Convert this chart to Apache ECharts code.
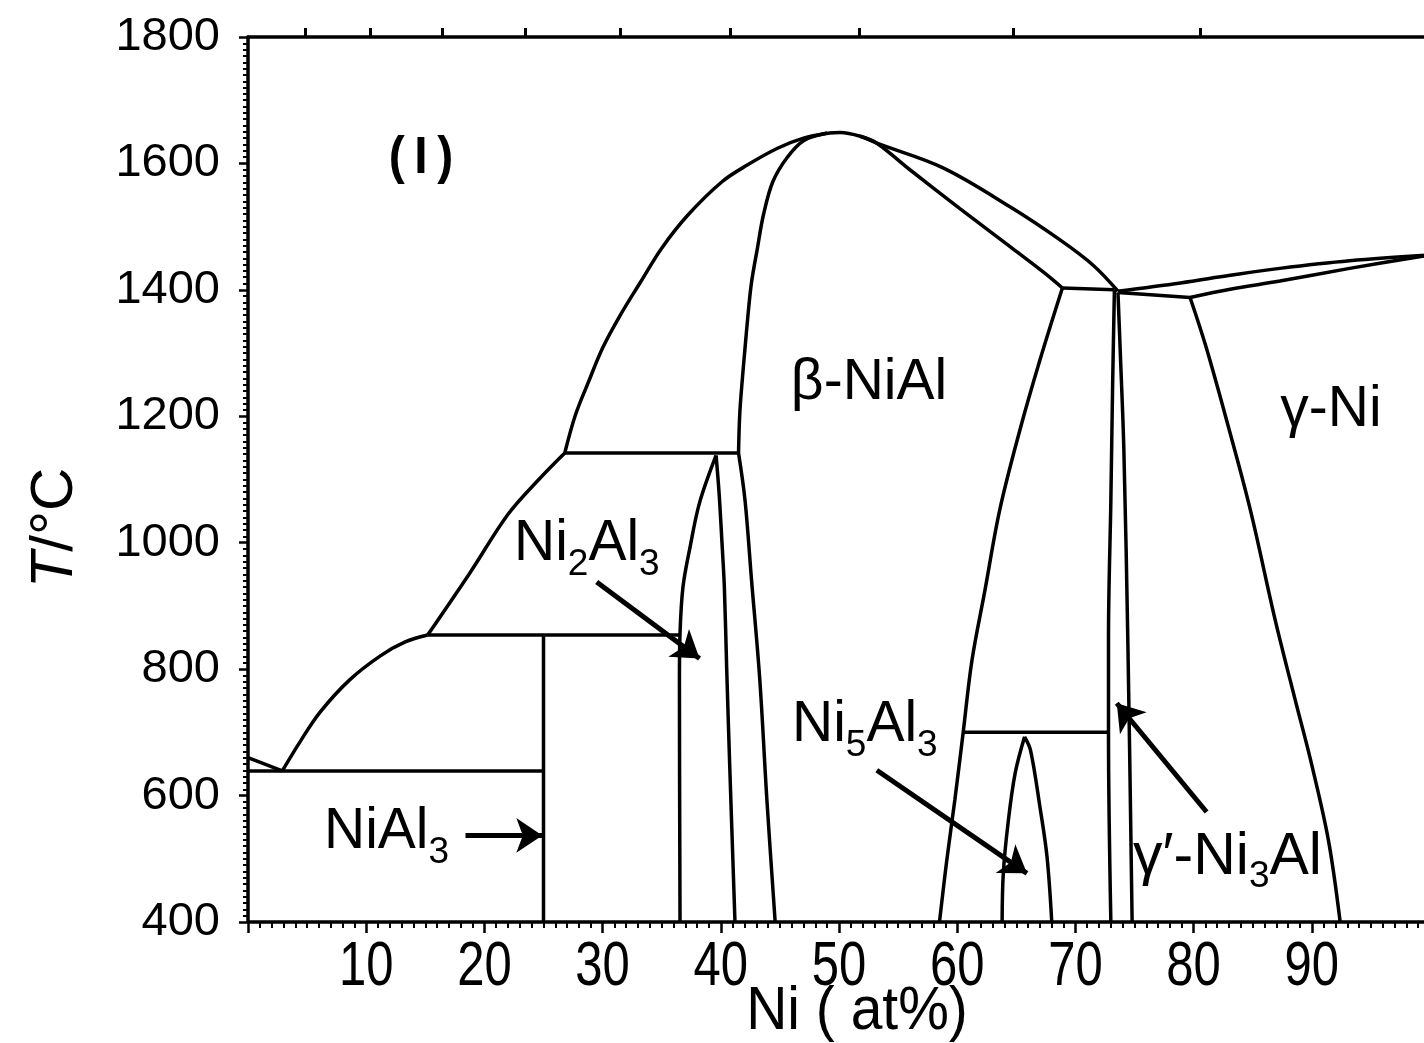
<!DOCTYPE html>
<html>
<head>
<meta charset="utf-8">
<script src="https://cdn.jsdelivr.net/npm/echarts@6/dist/echarts.min.js"></script>
<style>
  html, body { margin: 0; padding: 0; overflow: hidden; background: #fff; }
  #chart { width: 1440px; height: 1043px; }
</style>
</head>
<body>
<div id="chart"></div>
<script>
// Al–Ni phase diagram: temperature (°C) against composition (at% Ni)

const xTickValues = [10, 20, 30, 40, 50, 60, 70, 80, 90];      // at% Ni labels
const yTickValues = [400, 600, 800, 1000, 1200, 1400, 1600, 1800];
const wtPercentMarks = [10, 20, 30, 40, 50, 60, 70, 80, 90];   // wt% Ni, unlabelled marks on top edge

// phase boundaries, [at% Ni, T °C]
const alLiquidus      = [[0, 660], [2.9, 639]];
const eutectic        = [[0, 639], [25, 639]];
const liquidusLow     = [[2.9, 639], [4.4, 685], [6.1, 732], [8.6, 783], [11.2, 821], [13.3, 843], [15.2, 854]];
const niAl3Line       = [[25, 400], [25, 854]];
const niAl3Peritectic = [[15.2, 854], [36.5, 854]];
const liquidusMid     = [[15.2, 854], [18.8, 953], [22.0, 1045], [24.6, 1100], [26.8, 1142]];
const ni2Al3Peritectic= [[26.8, 1142], [41.5, 1142]];
const liquidusBeta    = [[26.8, 1142], [27.7, 1202], [28.8, 1254], [30.0, 1308], [31.5, 1360], [33.2, 1412],
                         [35.0, 1466], [37.2, 1518], [40.1, 1571], [42.2, 1597], [44.8, 1624], [47.0, 1640],
                         [49.2, 1648], [50.1, 1649], [51.8, 1643], [53.2, 1632], [58.8, 1593], [64.5, 1531],
                         [68.7, 1479], [71.5, 1439], [73.6, 1398]];
const betaSolidusLeft = [[49.0, 1648], [47.0, 1636], [45.6, 1609], [44.4, 1571], [43.6, 1518], [43.1, 1466],
                         [42.6, 1412], [42.3, 1360], [42.05, 1308], [41.8, 1254], [41.6, 1202], [41.5, 1142]];
const betaLeftLow     = [[41.5, 1142], [42.05, 1067], [42.6, 941], [43.3, 783], [43.9, 593], [44.6, 400]];
const ni2Al3Left      = [[39.6, 1138], [38.2, 1063], [37.4, 993], [36.8, 930], [36.55, 857], [36.5, 783], [36.55, 400]];
const ni2Al3Right     = [[39.6, 1138], [39.85, 1080], [40.1, 1000], [40.3, 930], [40.5, 800], [40.75, 650], [41.2, 400]];
const betaSolidusRight= [[51.8, 1643], [53.2, 1632], [56.0, 1590], [60.2, 1529], [64.5, 1468],
                         [67.3, 1428], [68.9, 1403]];
const betaRight       = [[68.9, 1403], [67.0, 1289], [65.3, 1178], [63.6, 1052], [62.35, 925], [61.25, 814],
                         [60.5, 699], [59.8, 593], [59.1, 495], [58.5, 400]];
const betaPeritectic  = [[68.9, 1403], [73.3, 1400]];
const gammaPrimeLeft  = [[73.3, 1400], [73.15, 1250], [73.0, 1067], [72.8, 850], [72.8, 699], [73.0, 400]];
const gammaPrimeRight = [[73.6, 1396], [73.8, 1300], [74.1, 1147], [74.45, 830], [74.8, 400]];
const gammaPeritectic = [[73.6, 1396], [79.7, 1388]];
const gammaLiquidus   = [[73.6, 1398], [78.9, 1411], [83.1, 1423], [87.3, 1434], [93.2, 1446], [100, 1455]];
const gammaSolidus    = [[79.7, 1388], [83.1, 1401], [87.3, 1414], [93.2, 1434], [100, 1455]];
const gammaSolvus     = [[79.7, 1388], [81.0, 1313], [82.7, 1200], [84.8, 1052], [86.9, 878], [88.6, 751],
                         [89.9, 656], [91.4, 530], [92.4, 400]];
const ni5Al3Line      = [[60.5, 700], [72.8, 700]];
const ni5Al3Left      = [[65.7, 693], [64.9, 635], [64.3, 556], [63.9, 477], [63.8, 400]];
const ni5Al3Right     = [[65.7, 693], [66.2, 672], [67.0, 582], [67.6, 503], [68.0, 400]];

// pointer arrows for the narrow phase fields: [tail, tip]
const arrowNi2Al3 = [[29.5, 938], [38.2, 817]];
const arrowNi5Al3 = [[53.2, 640], [65.9, 477]];
const arrowNiAl3  = [[18.4, 537], [24.9, 537]];
const arrowNi3Al  = [[81.1, 574], [73.5, 746]];

// at% Ni for a given wt% Ni
const AL = 26.982, NI = 58.693;
const wtToAt = w => 100 * (w / NI) / (w / NI + (100 - w) / AL);

const FONT = "'Liberation Sans', Arial, Helvetica, sans-serif";

const straight = [alLiquidus, eutectic, niAl3Line, niAl3Peritectic, ni2Al3Peritectic, betaPeritectic,
                  gammaPeritectic, ni5Al3Line];
const curved = [liquidusLow, liquidusMid, liquidusBeta, betaSolidusLeft, betaLeftLow, ni2Al3Left, ni2Al3Right,
                betaSolidusRight, betaRight, gammaPrimeLeft, gammaPrimeRight, gammaLiquidus, gammaSolidus,
                gammaSolvus, ni5Al3Left, ni5Al3Right];

const lineSeries = (data, smooth) => ({
  type: 'line', data, smooth, showSymbol: false, silent: true,
  lineStyle: { color: '#000', width: 3.5 }, xAxisIndex: 0, yAxisIndex: 0
});

const arrowSeries = {
  type: 'line', data: [], silent: true, xAxisIndex: 0, yAxisIndex: 0,
  markLine: {
    silent: true, symbol: ['none', 'arrow'], symbolSize: 26,
    label: { show: false },
    lineStyle: { color: '#000', width: 5, type: 'solid' },
    itemStyle: { color: '#000' },
    data: [arrowNi2Al3, arrowNi5Al3, arrowNiAl3, arrowNi3Al].map(a => [{ coord: a[0] }, { coord: a[1] }])
  }
};

const main = { fontSize: 57, fontFamily: FONT, lineHeight: 57, verticalAlign: 'top' };
const sub  = { fontSize: 37, fontFamily: FONT, lineHeight: 37, verticalAlign: 'top', padding: [30, 0, 0, 0] };
const mainWide = Object.assign({}, main, { fontSize: 59, lineHeight: 59 });
const formula = (x, y, text, m) => ({
  type: 'text', x, y, silent: true,
  style: { text, rich: { m: m || main, s: sub }, fill: '#000', align: 'left', verticalAlign: 'top' }
});
const plain = (x, y, text, font, scaleY) => ({
  type: 'text', x, y, silent: true, scaleY: scaleY || 1,
  style: { text, font: font, fill: '#000', align: 'center', verticalAlign: 'middle' }
});

const labels = [
  plain(421, 159, '(\u2009I\u2009)', 'bold 48px ' + FONT, 1.08),
  plain(869, 383, 'β-NiAl', '57px ' + FONT),
  plain(1331, 410, 'γ-Ni', '57px ' + FONT),
  formula(514, 516, '{m|Ni}{s|2}{m|Al}{s|3}'),
  formula(792, 697, '{m|Ni}{s|5}{m|Al}{s|3}'),
  formula(324, 804, '{m|NiAl}{s|3}'),
  formula(1133, 828, '{m|γ′-Ni}{s|3}{m|Al}', mainWide),
  plain(857, 1012, 'Ni ( at%)', '57px ' + FONT, 1.08),
  {
    type: 'text', x: 55, y: 528, rotation: Math.PI / 2, silent: true,
    style: {
      text: '{i|T}{r|/°C}', align: 'center', verticalAlign: 'middle', fill: '#000',
      rich: {
        i: { fontSize: 60, fontFamily: FONT, fontStyle: 'italic' },
        r: { fontSize: 60, fontFamily: FONT }
      }
    }
  }
];

const option = {
  animation: false,
  backgroundColor: '#fff',
  grid: { left: 248, top: 37, width: 1182, height: 885, containLabel: false, outerBoundsMode: 'none' },
  xAxis: [{
    type: 'value', min: 0, max: 100, interval: 10, position: 'bottom',
    axisLine: { lineStyle: { color: '#000', width: 3.5 } },
    axisTick: { show: true, inside: false, length: 11, lineStyle: { color: '#000', width: 2.5 } },
    minorTick: { show: true, splitNumber: 10, length: 6, lineStyle: { color: '#000', width: 2 } },
    splitLine: { show: false },
    axisLabel: { show: false }
  }, {
    type: 'value', min: 0, max: 100, position: 'top',
    axisLine: { show: true, lineStyle: { color: '#000', width: 3.5 } },
    axisTick: { show: true, inside: false, length: 9, customValues: wtPercentMarks.map(wtToAt),
                lineStyle: { color: '#000', width: 3 } },
    axisLabel: { show: false },
    splitLine: { show: false }
  }],
  yAxis: {
    type: 'value', min: 400, max: 1800, interval: 200,
    axisLine: { show: true, lineStyle: { color: '#000', width: 3.5 } },
    axisTick: { show: true, inside: false, length: 9, lineStyle: { color: '#000', width: 2.5 } },
    minorTick: { show: true, splitNumber: 20, length: 5, lineStyle: { color: '#000', width: 2 } },
    splitLine: { show: false },
    axisLabel: {
      margin: 28, color: '#000', fontSize: 47, fontFamily: FONT,
      formatter: v => yTickValues.includes(v) ? String(v) : ''
    }
  },
  series: [
    ...straight.map(d => lineSeries(d, false)),
    ...curved.map(d => lineSeries(d, 0.35)),
    arrowSeries
  ],
  graphic: labels
};

const chart = echarts.init(document.getElementById('chart'), null, { renderer: 'canvas' });
chart.setOption(option);

// composition tick labels: tall digits placed at the axis' own tick positions
const tickLabels = xTickValues.map(v => plain(
  chart.convertToPixel({ xAxisIndex: 0 }, v), 968, String(v), '49px ' + FONT, 1.27
));
chart.setOption({ graphic: labels.concat(tickLabels) });
</script>
</body>
</html>
